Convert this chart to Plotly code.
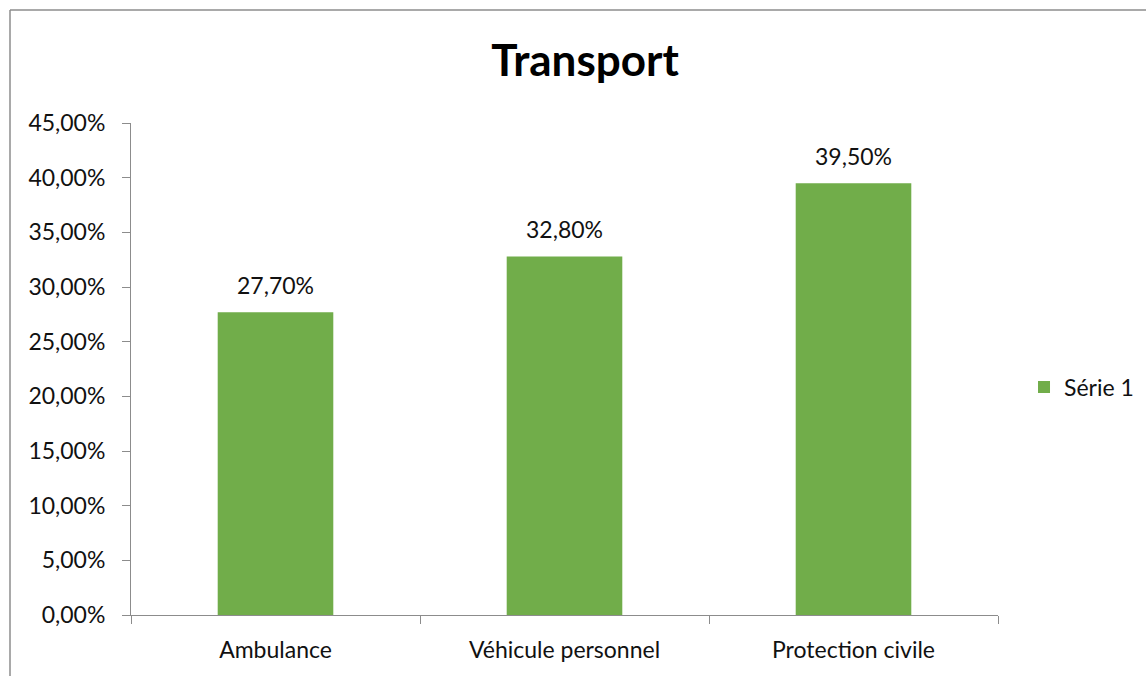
import plotly.graph_objects as go

categories = ["Ambulance", "Véhicule personnel", "Protection civile"]
values = [0.277, 0.328, 0.395]
series_name = "Série 1"
chart_title = "Transport"

W, H = 1146, 676
L, R, T, B = 131, W - 998, 123, H - 615
FONT = "Lato, Carlito, Calibri, sans-serif"
TXT = "#111111"
FS = 23

fig = go.Figure()
fig.add_trace(go.Bar(
    x=categories, y=values, name=series_name,
    marker=dict(color="#71ad4a", line=dict(width=0)),
    cliponaxis=False, showlegend=True,
))

annotations = [
    dict(x=c, y=v, xref="x", yref="y", text=f"{v * 100:.2f}%".replace(".", ","),
         showarrow=False, yshift=27, yanchor="middle",
         font=dict(family=FONT, size=FS, color=TXT))
    for c, v in zip(categories, values)
]

fig.update_layout(
    width=W, height=H,
    margin=dict(l=L, r=R, t=T, b=B, pad=0, autoexpand=False),
    paper_bgcolor="white", plot_bgcolor="white",
    separators=", ",
    bargap=0.6,
    font=dict(family=FONT, size=FS, color=TXT),
    title=dict(text="<b>" + chart_title + "</b>", x=585 / W, xanchor="center",
               y=1 - 61 / H, yanchor="middle", yref="container",
               font=dict(family=FONT, size=44, color="#000000")),
    xaxis=dict(showline=True, linecolor="#8c8c8c", linewidth=1,
               ticks="outside", tickson="boundaries", ticklen=8,
               tickcolor="#8c8c8c", showgrid=False, zeroline=False,
               ticklabelstandoff=14,
               tickfont=dict(family=FONT, size=FS, color=TXT)),
    yaxis=dict(range=[0, 0.45], dtick=0.05, tickformat=".2%",
               showline=True, linecolor="#8c8c8c", linewidth=1,
               ticks="outside", ticklen=8, tickcolor="#8c8c8c",
               showgrid=False, zeroline=False,
               ticklabelstandoff=12,
               tickfont=dict(family=FONT, size=FS, color=TXT)),
    legend=dict(x=1.03, xanchor="left", y=(615 - 387) / (615 - 123), yanchor="middle",
                font=dict(family=FONT, size=FS, color=TXT),
                bgcolor="rgba(0,0,0,0)"),
    annotations=annotations,
    shapes=[
        dict(type="line", xref="paper", yref="paper",
             x0=(10 - L) / (W - L - R), x1=(W - L) / (W - L - R) + 0.01,
             y0=(H - B - 10) / (H - T - B), y1=(H - B - 10) / (H - T - B),
             line=dict(color="#8c8c8c", width=1.5)),
        dict(type="line", xref="paper", yref="paper",
             x0=(10 - L) / (W - L - R), x1=(10 - L) / (W - L - R),
             y0=(H - B - 10) / (H - T - B), y1=-B / (H - T - B) - 0.01,
             line=dict(color="#8c8c8c", width=1.5)),
    ],
)

fig.write_html("out.html")
